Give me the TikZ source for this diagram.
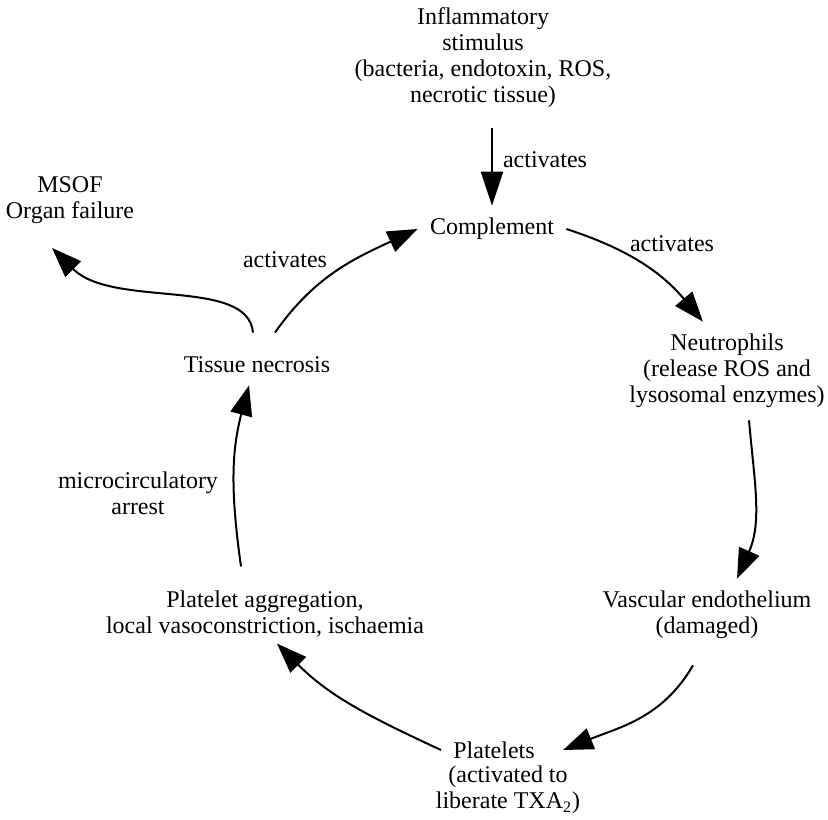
\documentclass[tikz,border=0pt]{standalone}
\usepackage{fontspec}
\setmainfont{Liberation Serif}
\usetikzlibrary{arrows.meta, positioning}

\tikzstyle{block} = [
    align=center,
    inner sep=6pt
]
\tikzstyle{lbl} = [
    align=center,
    inner sep=1pt
]
\tikzstyle{arrow} = [
    -{Triangle[length=15pt, width=11pt]},
    line width=1pt,
    color=black
]
\tikzstyle{bigarrow} = [
    -{Triangle[length=17pt, width=11pt]},
    line width=1pt,
    color=black
]

\begin{document}
\begin{tikzpicture}[x=0.5pt, y=-0.5pt, font=\fontsize{12}{13}\selectfont]

\useasboundingbox (0, 0) rectangle (828, 819);

% Stimulus at the top
\node[block] (stimulus) at (483, 58) {Inflammatory\\stimulus\\(bacteria, endotoxin, ROS,\\necrotic tissue)};

% Cycle members
\node[block] (complement) at (492, 229) {Complement};
\node[block] (neutrophils) at (727, 371) {Neutrophils\\(release ROS and\\lysosomal enzymes)};
\node[block] (endothelium) at (707, 615) {Vascular endothelium\\(damaged)};
\node[block] (platelets) at (494, 750) {Platelets};
\node[block] (txa) at (508, 790) {(activated to\\liberate TXA\textsubscript{2})};
\node[block] (aggregation) at (265, 614) {Platelet aggregation,\\local vasoconstriction, ischaemia};
\node[block] (necrosis) at (257, 365) {Tissue necrosis};

% Outcome
\node[block] (msof) at (70, 200) {MSOF\\Organ failure};

% Arrow labels
\node[lbl] (act1) at (545, 160) {activates};
\node[lbl] (act2) at (285, 260) {activates};
\node[lbl] (act3) at (672, 244) {activates};
\node[lbl] (arrest) at (138, 493) {microcirculatory\\arrest};

% Stimulus into the cycle
\draw[bigarrow] ([yshift=-4pt]stimulus.south -| complement.north) -- (complement.north);

% The cycle
\draw[arrow] (complement.east) to[out=-18, in=130] ([xshift=-12pt]neutrophils.north);
\draw[arrow] ([xshift=11pt]neutrophils.south) to[out=-85, in=66] ([xshift=15pt]endothelium.north);
\draw[arrow] ([xshift=-7pt, yshift=-7pt]endothelium.south) to[out=-120, in=22] ([xshift=8pt]platelets.east);
\draw[arrow] (platelets.west) to[out=155, in=-45] ([xshift=6pt, yshift=3pt]aggregation.south);
\draw[arrow] ([xshift=-12pt, yshift=6pt]aggregation.north) to[out=98, in=-105] ([xshift=-4pt]necrosis.south);
\draw[arrow] ([xshift=9pt, yshift=6pt]necrosis.north) to[out=55, in=205] (complement.west);

% Organ failure
\draw[arrow] ([xshift=-2pt, yshift=6pt]necrosis.north) to[out=95, in=-45, out distance=28pt, in distance=43pt] ([xshift=-9pt, yshift=-6pt]msof.south);

\end{tikzpicture}
\end{document}
